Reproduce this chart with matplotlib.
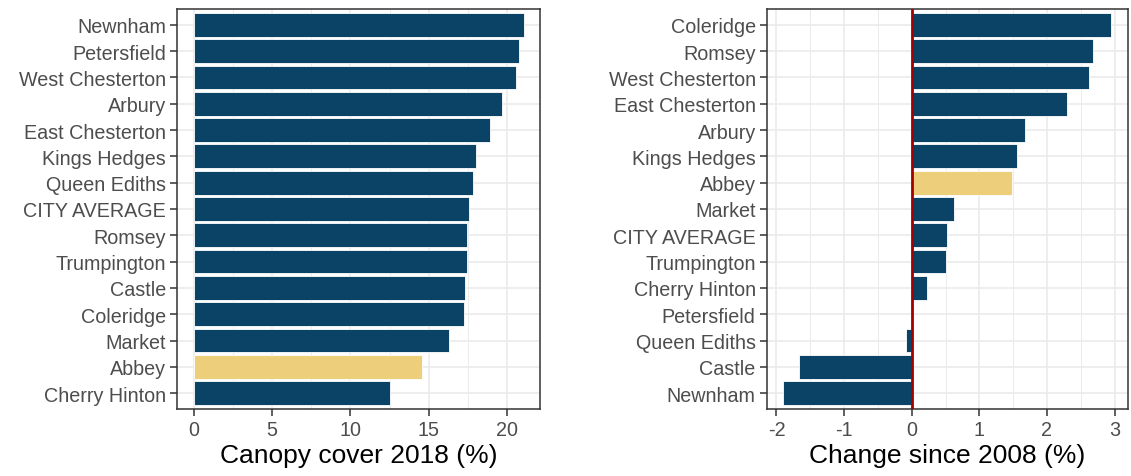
import matplotlib.pyplot as plt
import numpy as np

plt.rcParams["font.family"] = ["Liberation Sans", "DejaVu Sans"]

# left panel: canopy cover 2018, top to bottom
cover_wards = ["Newnham", "Petersfield", "West Chesterton", "Arbury", "East Chesterton",
               "Kings Hedges", "Queen Ediths", "CITY AVERAGE", "Romsey", "Trumpington",
               "Castle", "Coleridge", "Market", "Abbey", "Cherry Hinton"]
cover_values = [21.04, 20.76, 20.59, 19.64, 18.92, 18.01, 17.84, 17.54, 17.42, 17.42,
                17.30, 17.27, 16.27, 14.56, 12.55]

# right panel: change since 2008, top to bottom
change_wards = ["Coleridge", "Romsey", "West Chesterton", "East Chesterton", "Arbury",
                "Kings Hedges", "Abbey", "Market", "CITY AVERAGE", "Trumpington",
                "Cherry Hinton", "Petersfield", "Queen Ediths", "Castle", "Newnham"]
change_values = [2.95, 2.68, 2.62, 2.29, 1.68, 1.55, 1.49, 0.62, 0.52, 0.51,
                 0.23, 0.0, -0.09, -1.67, -1.90]

HIGHLIGHT = "Abbey"
NAVY = "#0B4366"
GOLD = "#EDCF7B"
GRID = "#EBEBEB"
TICK = "#4D4D4D"
FRAME = "#333333"


def draw_panel(ax, wards, values, xlabel, xticks, minor_ticks):
    n = len(wards)
    ypos = np.arange(n)[::-1]
    colors = [GOLD if w == HIGHLIGHT else NAVY for w in wards]
    ax.set_axisbelow(True)
    ax.barh(ypos, values, height=0.9, color=colors, edgecolor="white", linewidth=0.6, zorder=2)
    lo, hi = min(0, min(values)), max(0, max(values))
    pad = (hi - lo) * 0.05
    ax.set_xlim(lo - pad, hi + pad)
    ax.set_ylim(-0.6, n - 0.4)
    ax.set_yticks(ypos)
    ax.set_yticklabels(wards)
    ax.set_xticks(xticks)
    ax.set_xticklabels([str(t) for t in xticks])
    ax.set_xticks(minor_ticks, minor=True)
    ax.grid(True, which="major", color=GRID, linewidth=1.2)
    ax.grid(True, which="minor", axis="x", color=GRID, linewidth=0.7)
    ax.tick_params(axis="both", which="major", labelsize=14.2, labelcolor=TICK,
                   color=FRAME, length=5, width=1.1, pad=3)
    ax.tick_params(axis="x", which="minor", length=0)
    for s in ax.spines.values():
        s.set_color(FRAME)
        s.set_linewidth(1.1)
    ax.set_xlabel(xlabel, fontsize=19, color="black", labelpad=3)


fig = plt.figure(figsize=(11.31, 4.77), dpi=100)
ax1 = fig.add_axes([0.1565, 0.1405, 0.321, 0.8386])
ax2 = fig.add_axes([0.678, 0.1405, 0.319, 0.8386])

draw_panel(ax1, cover_wards, cover_values, "Canopy cover 2018 (%)",
           [0, 5, 10, 15, 20], [2.5, 7.5, 12.5, 17.5])
draw_panel(ax2, change_wards, change_values, "Change since 2008 (%)",
           [-2, -1, 0, 1, 2, 3], [-1.5, -0.5, 0.5, 1.5, 2.5])
ax2.axvline(0, color="#A50000", linewidth=2, zorder=3)

fig.savefig("out.png", dpi=100)
